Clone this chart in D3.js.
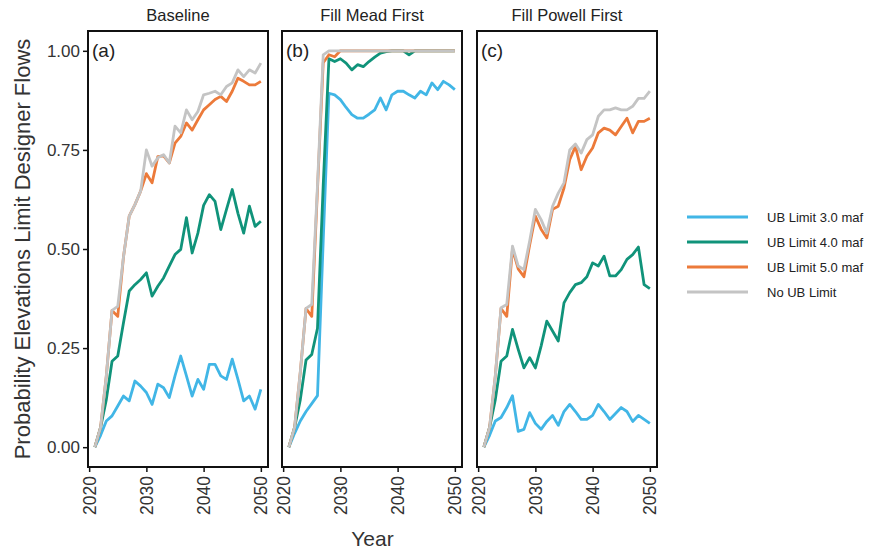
<!doctype html>
<html lang="en">
<head>
<meta charset="UTF-8">
<title>Designer Flows</title>
<script src="https://cdnjs.cloudflare.com/ajax/libs/d3/7.8.5/d3.min.js"></script>
<style>
    body { margin: 0; background: #fff; }
    text { font-family: "Liberation Sans", Arial, sans-serif; fill: #222; }
</style>
</head>
<body>
<svg id="chart" width="887" height="549"></svg>
<script>

    // ---- data ----
    var years = d3.range(2021, 2051);

    var panels = ['Baseline', 'Fill Mead First', 'Fill Powell First'];
    var panelTags = ['(a)', '(b)', '(c)'];
    var seriesNames = ['UB Limit 3.0 maf', 'UB Limit 4.0 maf', 'UB Limit 5.0 maf', 'No UB Limit'];
    var seriesColors = ['#41b6e6', '#10937a', '#ec7a3a', '#c4c4c4'];

    var yTicks = [0, 0.25, 0.5, 0.75, 1];
    var xTicks = [2020, 2030, 2040, 2050];

    var baseUB3 = [0, 0.03, 0.066, 0.079, 0.104, 0.129, 0.117, 0.167, 0.154, 0.138, 0.108, 0.159, 0.15, 0.125, 0.18,
        0.23, 0.18, 0.129, 0.171, 0.146, 0.209, 0.209, 0.18, 0.171, 0.222, 0.171, 0.117, 0.129, 0.096, 0.146];
    var baseUB4 = [0, 0.05, 0.12, 0.217, 0.23, 0.314, 0.394, 0.41, 0.423, 0.44, 0.381, 0.406, 0.427, 0.457, 0.486,
        0.499, 0.579, 0.49, 0.54, 0.61, 0.637, 0.62, 0.549, 0.6, 0.65, 0.59, 0.54, 0.608, 0.557, 0.57];
    var baseUB5 = [0, 0.05, 0.18, 0.345, 0.33, 0.48, 0.583, 0.612, 0.646, 0.69, 0.667, 0.733, 0.735, 0.717, 0.767,
        0.784, 0.818, 0.8, 0.826, 0.851, 0.864, 0.877, 0.885, 0.872, 0.898, 0.931, 0.923, 0.914, 0.914, 0.923];
    var baseNone = [0, 0.05, 0.18, 0.345, 0.355, 0.48, 0.583, 0.612, 0.646, 0.75, 0.709, 0.73, 0.738, 0.717, 0.81,
        0.793, 0.851, 0.826, 0.847, 0.889, 0.893, 0.898, 0.889, 0.91, 0.919, 0.952, 0.935, 0.952, 0.944, 0.969];

    var meadUB3 = [0, 0.035, 0.066, 0.09, 0.11, 0.13, 0.52, 0.893, 0.889, 0.877, 0.857, 0.839, 0.83, 0.83, 0.84,
        0.851, 0.881, 0.851, 0.889, 0.898, 0.898, 0.889, 0.881, 0.898, 0.889, 0.919, 0.902, 0.923, 0.914, 0.902];
    var meadUB4 = [0, 0.05, 0.12, 0.22, 0.234, 0.3, 0.66, 0.98, 0.973, 0.98, 0.969, 0.952, 0.965, 0.96, 0.973,
        0.984, 0.994, 0.998, 1, 1, 1, 0.99, 1, 1, 1, 1, 1, 1, 1, 1];
    var meadUB5 = [0, 0.05, 0.19, 0.35, 0.33, 0.65, 0.97, 0.99, 0.985, 1, 1, 1, 1, 1, 1,
        1, 1, 1, 1, 1, 1, 1, 1, 1, 1, 1, 1, 1, 1, 1];
    var meadNone = [0, 0.05, 0.19, 0.35, 0.36, 0.66, 0.99, 1, 1, 1, 1, 1, 1, 1, 1,
        1, 1, 1, 1, 1, 1, 1, 1, 1, 1, 1, 1, 1, 1, 1];

    var powellUB3 = [0, 0.03, 0.066, 0.075, 0.1, 0.13, 0.04, 0.045, 0.087, 0.06, 0.045, 0.065, 0.08, 0.055, 0.09,
        0.108, 0.09, 0.07, 0.07, 0.08, 0.108, 0.09, 0.07, 0.085, 0.1, 0.09, 0.065, 0.08, 0.07, 0.06];
    var powellUB4 = [0, 0.05, 0.12, 0.217, 0.23, 0.297, 0.247, 0.2, 0.226, 0.2, 0.255, 0.318, 0.293, 0.268, 0.364,
        0.39, 0.41, 0.415, 0.43, 0.465, 0.457, 0.482, 0.432, 0.432, 0.448, 0.474, 0.486, 0.505, 0.41, 0.4];
    var powellUB5 = [0, 0.05, 0.18, 0.35, 0.33, 0.5, 0.45, 0.43, 0.51, 0.583, 0.55, 0.528, 0.6, 0.608, 0.654,
        0.725, 0.759, 0.7, 0.734, 0.755, 0.793, 0.805, 0.8, 0.788, 0.809, 0.83, 0.793, 0.822, 0.822, 0.83];
    var powellNone = [0, 0.05, 0.18, 0.352, 0.36, 0.507, 0.457, 0.448, 0.52, 0.6, 0.574, 0.54, 0.608, 0.641, 0.667,
        0.75, 0.765, 0.742, 0.776, 0.788, 0.835, 0.851, 0.851, 0.856, 0.851, 0.851, 0.86, 0.88, 0.88, 0.898];

    var panelData = [
        [baseUB3, baseUB4, baseUB5, baseNone],
        [meadUB3, meadUB4, meadUB5, meadNone],
        [powellUB3, powellUB4, powellUB5, powellNone]
    ];

    // ---- layout ----
    var panelLeft = [88, 282, 477];
    var panelW = 180;
    var panelTop = 31;
    var panelBottom = 467;

    var svg = d3.select('#chart');

    var y = d3.scaleLinear()
        .domain([-0.05, 1.05])
        .range([panelBottom, panelTop]);

    var line = function (xs) {
        return d3.line()
            .x(function (d, i) { return xs(years[i]); })
            .y(function (d) { return y(d); });
    };

    panels.forEach(function (name, p) {

        var x = d3.scaleLinear()
            .domain([2019.8, 2051.25])
            .range([panelLeft[p], panelLeft[p] + panelW]);

        var g = svg.append('g');

        // lines, in legend order so grey ends on top
        panelData[p].forEach(function (vals, s) {
            g.append('path')
                .datum(vals)
                .attr('d', line(x))
                .attr('fill', 'none')
                .attr('stroke', seriesColors[s])
                .attr('stroke-width', 2.8)
                .attr('stroke-linejoin', 'round');
        });

        // panel border
        g.append('rect')
            .attr('x', panelLeft[p])
            .attr('y', panelTop)
            .attr('width', panelW)
            .attr('height', panelBottom - panelTop)
            .attr('fill', 'none')
            .attr('stroke', '#111')
            .attr('stroke-width', 2);

        // strip title
        g.append('text')
            .attr('x', panelLeft[p] + panelW / 2)
            .attr('y', 21)
            .attr('text-anchor', 'middle')
            .attr('font-size', '16.5px')
            .text(name);

        // panel tag
        g.append('text')
            .attr('x', panelLeft[p] + 4)
            .attr('y', 57)
            .attr('font-size', '19px')
            .text(panelTags[p]);

        // x axis
        var xAxis = d3.axisBottom(x)
            .tickValues(xTicks)
            .tickFormat(d3.format('d'))
            .tickSize(5)
            .tickPadding(4);

        var xg = g.append('g')
            .attr('transform', 'translate(0,' + panelBottom + ')')
            .call(xAxis);

        xg.select('.domain').remove();
        xg.selectAll('.tick line').attr('stroke', '#111').attr('stroke-width', 1.5);
        xg.selectAll('.tick text')
            .attr('font-family', '"Liberation Sans", Arial, sans-serif')
            .attr('font-size', '17.5px')
            .style('fill', '#333')
            .attr('transform', 'rotate(-90)')
            .attr('text-anchor', 'end')
            .attr('x', -9)
            .attr('y', 0)
            .attr('dy', '0.35em');

        // y axis on first panel only
        if (p === 0) {
            var yAxis = d3.axisLeft(y)
                .tickValues(yTicks)
                .tickFormat(d3.format('.2f'))
                .tickSize(5)
                .tickPadding(3);

            var yg = g.append('g')
                .attr('transform', 'translate(' + panelLeft[p] + ',0)')
                .call(yAxis);

            yg.select('.domain').remove();
            yg.selectAll('.tick line').attr('stroke', '#111').attr('stroke-width', 1.5);
            yg.selectAll('.tick text')
                .attr('font-family', '"Liberation Sans", Arial, sans-serif')
                .attr('font-size', '17px')
                .style('fill', '#333');
        }
    });

    // axis titles
    svg.append('text')
        .attr('x', (panelLeft[0] + panelLeft[2] + panelW) / 2)
        .attr('y', 546)
        .attr('text-anchor', 'middle')
        .attr('font-size', '21px')
        .style('fill', '#333')
        .text('Year');

    svg.append('text')
        .attr('transform', 'translate(30,' + ((panelTop + panelBottom) / 2) + ') rotate(-90)')
        .attr('text-anchor', 'middle')
        .attr('font-size', '22px')
        .style('fill', '#333')
        .text('Probability Elevations Limit Designer Flows');

    // legend
    var legend = svg.append('g')
        .attr('transform', 'translate(687,217)');

    seriesNames.forEach(function (n, s) {
        legend.append('line')
            .attr('x1', 0)
            .attr('x2', 61)
            .attr('y1', s * 25)
            .attr('y2', s * 25)
            .attr('stroke', seriesColors[s])
            .attr('stroke-width', 2.8);

        legend.append('text')
            .attr('x', 80)
            .attr('y', s * 25 + 5)
            .attr('font-size', '13px')
            .text(n);
    });

</script>
</body>
</html>
